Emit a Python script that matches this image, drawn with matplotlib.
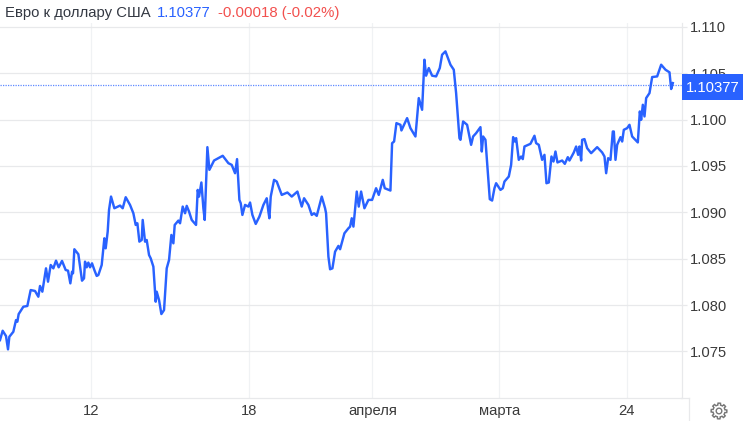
import numpy as np
import matplotlib
matplotlib.use('Agg')
import matplotlib.pyplot as plt
from matplotlib.patches import Rectangle, Polygon
from matplotlib.lines import Line2D

plt.rcParams['font.family'] = ['Liberation Sans', 'DejaVu Sans']

# позиции баров (условная шкала времени) и цена
bar_index = [0, 8, 18, 24, 28, 40, 48, 52, 56, 70, 82, 92, 105, 115, 120, 127, 138, 144, 152, 160,
             168, 176, 186, 197, 204, 211, 216, 219, 223, 235, 241, 246, 252, 255, 260, 265, 270, 276, 283, 290,
             295, 305, 313, 317, 323, 327, 333, 343, 360, 368, 377, 390, 400, 407, 412, 418, 425, 428, 435, 440,
             447, 452, 460, 467, 470, 477, 484, 492, 500, 507, 514, 520, 524, 535, 540, 548, 555, 560, 567, 575,
             588, 593, 597, 604, 610, 614, 622, 628, 642, 668, 685, 695, 705, 711, 718, 722, 727, 735, 745, 750,
             757, 767, 778, 790, 800, 805, 808, 812, 822, 830, 845, 862, 875, 892, 905, 912, 925, 935, 942, 950,
             965, 975, 978, 985, 990, 997, 1005, 1015, 1020, 1033, 1045, 1050, 1055, 1060, 1070, 1076, 1083, 1093, 1105, 1116,
             1128, 1136, 1148, 1154, 1171, 1176, 1182, 1189, 1201, 1204, 1221, 1231, 1246, 1256, 1266, 1273, 1278, 1286, 1296, 1308,
             1319, 1326, 1336, 1351, 1361, 1368, 1378, 1381, 1389, 1401, 1413, 1419, 1428, 1441, 1445, 1449, 1456, 1469, 1476, 1483,
             1488, 1501, 1508, 1513, 1526, 1533, 1539, 1544, 1548, 1556, 1563, 1568, 1573, 1591, 1603, 1608, 1616, 1626, 1633, 1639,
             1646, 1654, 1660, 1666, 1672, 1686, 1694, 1703, 1708, 1721, 1728, 1734, 1738, 1743, 1746, 1753, 1761, 1773, 1791, 1806,
             1813, 1818, 1824, 1831, 1838, 1841, 1846, 1851, 1861, 1866, 1871, 1881, 1888, 1896, 1913, 1919, 1923, 1928, 1933, 1938,
             1948, 1956, 1971, 1983, 1996, 2008, 2013, 2018]
price = [1.07622, 1.07723, 1.07666, 1.07522, 1.07658, 1.07712, 1.07838, 1.07820, 1.07903, 1.07982, 1.07990, 1.08162, 1.08152, 1.08090, 1.08206, 1.08144, 1.08396, 1.08252, 1.08432, 1.08396,
         1.08479, 1.08407, 1.08476, 1.08378, 1.08371, 1.08234, 1.08360, 1.08342, 1.08602, 1.08548, 1.08396, 1.08263, 1.08288, 1.08468, 1.08407, 1.08458, 1.08407, 1.08450, 1.08378, 1.08314,
         1.08324, 1.08432, 1.08720, 1.08612, 1.08792, 1.09026, 1.09170, 1.09044, 1.09073, 1.09044, 1.09163, 1.09080, 1.08990, 1.08864, 1.08882, 1.08684, 1.08702, 1.08918, 1.08684, 1.08702,
         1.08540, 1.08504, 1.08414, 1.08036, 1.08144, 1.08054, 1.07903, 1.07946, 1.08396, 1.08486, 1.08756, 1.08666, 1.08864, 1.08911, 1.08882, 1.09062, 1.08990, 1.09070, 1.09008, 1.08918,
         1.08864, 1.09242, 1.09170, 1.09322, 1.09044, 1.08918, 1.09703, 1.09458, 1.09559, 1.09610, 1.09530, 1.09512, 1.09422, 1.09574, 1.09134, 1.09098, 1.08972, 1.09080, 1.09062, 1.09106,
         1.08972, 1.08875, 1.08954, 1.09080, 1.09152, 1.09008, 1.08936, 1.09170, 1.09350, 1.09332, 1.09188, 1.09214, 1.09170, 1.09224, 1.09062, 1.09152, 1.09080, 1.08972, 1.08990, 1.08962,
         1.09170, 1.09044, 1.08990, 1.08522, 1.08386, 1.08396, 1.08576, 1.08638, 1.08602, 1.08774, 1.08828, 1.08846, 1.08936, 1.08846, 1.09224, 1.09062, 1.09224, 1.09044, 1.09134, 1.09134,
         1.09260, 1.09188, 1.09350, 1.09260, 1.09235, 1.09746, 1.09764, 1.09962, 1.09944, 1.09883, 1.10016, 1.09908, 1.09818, 1.10232, 1.10106, 1.10646, 1.10474, 1.10556, 1.10474, 1.10466,
         1.10556, 1.10700, 1.10736, 1.10592, 1.10538, 1.10286, 1.09800, 1.09782, 1.09980, 1.09944, 1.09728, 1.09818, 1.09854, 1.09919, 1.09656, 1.09818, 1.09782, 1.09142, 1.09127, 1.09260,
         1.09314, 1.09242, 1.09260, 1.09332, 1.09386, 1.09512, 1.09811, 1.09764, 1.09800, 1.09566, 1.09602, 1.09574, 1.09710, 1.09739, 1.09826, 1.09746, 1.09728, 1.09566, 1.09620, 1.09314,
         1.09322, 1.09602, 1.09548, 1.09656, 1.09538, 1.09559, 1.09523, 1.09595, 1.09559, 1.09646, 1.09710, 1.09620, 1.09710, 1.09559, 1.09782, 1.09790, 1.09692, 1.09638, 1.09703, 1.09646,
         1.09602, 1.09422, 1.09584, 1.09566, 1.09872, 1.09872, 1.09566, 1.09728, 1.09811, 1.09764, 1.09890, 1.09908, 1.09944, 1.09818, 1.09754, 1.10088, 1.09998, 1.10160, 1.10034, 1.10232,
         1.10286, 1.10459, 1.10466, 1.10592, 1.10538, 1.10510, 1.10330, 1.10394]

y_ticks = [1.075, 1.080, 1.085, 1.090, 1.095, 1.100, 1.105, 1.110]
x_grid = [274, 748, 1117, 1498, 1880]
x_labels = ['12', '18', 'апреля', 'марта', '24']
last_price = 1.10377

W, H = 743, 421
BLUE = '#2962ff'
fig = plt.figure(figsize=(W / 100, H / 100), dpi=100)
ax = fig.add_axes([0, 1 - 397.5 / H, 681.5 / W, (397.5 - 23) / H])
ax.set_xlim(0, 2044)
ax.set_ylim(1.07003, 1.11042)

ax.plot(bar_index, price, color=BLUE, linewidth=1.75, solid_joinstyle='round', zorder=3)
ax.axhline(last_price, color=BLUE, linewidth=0.9, linestyle=(0, (1, 1)), alpha=0.75, zorder=4)

# сетка
ax.set_yticks(y_ticks)
ax.set_yticklabels(['%.3f' % v for v in y_ticks])
ax.set_xticks(x_grid)
ax.set_xticklabels(x_labels)
ax.yaxis.tick_right()
ax.grid(axis='y', color='#e8e9eb', linewidth=0.9)
ax.grid(axis='x', color='#f0f2f4', linewidth=0.9)
ax.set_axisbelow(True)
ax.tick_params(axis='y', length=3.5, width=0.9, color='#e8e9eb', labelsize=10.6, labelcolor='#3a3a3a', pad=2.5)
ax.tick_params(axis='x', length=0, labelsize=10.6, labelcolor='#3a3a3a', pad=5)
for side in ['top', 'left']:
    ax.spines[side].set_visible(False)
for side in ['right', 'bottom']:
    ax.spines[side].set_color('#e8e9eb')
    ax.spines[side].set_linewidth(0.9)

# заголовок
fig.text(5 / W, 1 - 17 / H, 'Евро к доллару США', fontsize=10.7, color='#333842')
fig.text(157 / W, 1 - 17 / H, '1.10377', fontsize=10.7, color=BLUE)
fig.text(218 / W, 1 - 17 / H, '-0.00018 (-0.02%)', fontsize=10.8, color='#f2504e')

# метка последней цены
fig.add_artist(Rectangle((682 / W, 1 - 100 / H), 61 / W, 26 / H, transform=fig.transFigure,
                         facecolor=BLUE, edgecolor='none', zorder=5))
fig.text(686 / W, 1 - 88 / H, '1.10377', fontsize=10.7, color='white', va='center', zorder=6)

# нижняя панель и шестерёнка
fig.add_artist(Line2D([681 / W, 688.5 / W], [1 - 397.5 / H] * 2, color='#e8e9eb', linewidth=0.9))
fig.add_artist(Line2D([688.5 / W] * 2, [0, 1 - 397.5 / H], color='#e8e9eb', linewidth=0.9))
cx, cy = 719.0, 411.0
ang = np.linspace(0, 2 * np.pi, 96, endpoint=False)
rad = 6.0 + 1.9 * (np.cos(8 * ang) > 0)
gear = np.column_stack([(cx + rad * np.cos(ang)) / W, 1 - (cy + rad * np.sin(ang)) / H])
fig.add_artist(Polygon(gear, closed=True, transform=fig.transFigure, facecolor='none', edgecolor='#777777', linewidth=1))
fig.add_artist(Polygon(np.column_stack([(cx + 2.8 * np.cos(ang)) / W, 1 - (cy + 2.8 * np.sin(ang)) / H]),
                       closed=True, transform=fig.transFigure, facecolor='none', edgecolor='#777777', linewidth=1))

fig.savefig('out.png', dpi=100)
plt.close(fig)
